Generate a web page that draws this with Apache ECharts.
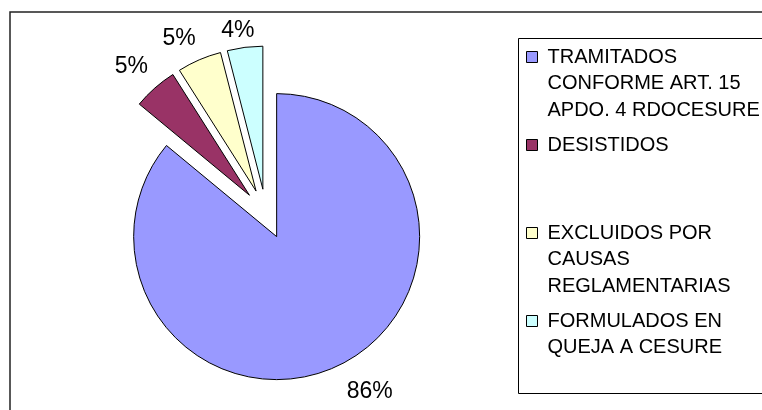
<!DOCTYPE html>
<html><head><meta charset="utf-8">
<script src="https://cdn.jsdelivr.net/npm/echarts@6/dist/echarts.min.js"></script>
<style>html,body{margin:0;padding:0;background:#fff}#c{width:762px;height:410px}</style>
</head><body><div id="c"></div>
<script>
const categories = [
  'TRAMITADOS CONFORME ART. 15 APDO. 4 RDOCESURE',
  'DESISTIDOS',
  'EXCLUIDOS POR CAUSAS REGLAMENTARIAS',
  'FORMULADOS EN QUEJA A CESURE'
];
const legendLines = [
  ['TRAMITADOS', 'CONFORME ART. 15', 'APDO. 4 RDOCESURE'],
  ['DESISTIDOS'],
  ['EXCLUIDOS POR', 'CAUSAS', 'REGLAMENTARIAS'],
  ['FORMULADOS EN', 'QUEJA A CESURE']
];
const values = [86, 5, 5, 4];
const colors = ['#9999FF', '#993366', '#FFFFCC', '#CCFFFF'];
const labelLen = [28.5, 28, 23, 16.5];
const labelLen2 = [15, 0, 6, 0];

const FONT = '"Liberation Sans", Arial, sans-serif';
const LH = 26.5;
const maxLines = 3;

const chart = echarts.init(document.getElementById('c'), null, {renderer: 'canvas'});

const legendData = categories.map((name, i) => {
  const n = legendLines[i].length;
  return {
    name: name,
    icon: 'rect',
    textStyle: {padding: [(maxLines - 1) * LH, 0, (maxLines - n) * LH, 5]}
  };
});

chart.setOption({
  animation: false,
  backgroundColor: '#fff',
  graphic: [
    {type: 'rect', silent: true, z: -1, shape: {x: 10, y: 12, width: 800, height: 450},
     style: {fill: 'none', stroke: '#222', lineWidth: 1.5}},
    {type: 'rect', silent: true, z: -1, shape: {x: 518.5, y: 38.5, width: 300, height: 355},
     style: {fill: 'none', stroke: '#000', lineWidth: 1}}
  ],
  legend: {
    orient: 'vertical',
    left: 526,
    top: 57 - (2 * maxLines - 1) * LH / 2,
    padding: 0,
    itemGap: 88 - (2 * maxLines - 1) * LH,
    itemWidth: 11,
    itemHeight: 11,
    selectedMode: false,
    itemStyle: {borderColor: '#000', borderWidth: 1},
    formatter: function (name) {
      return legendLines[categories.indexOf(name)].join('\n');
    },
    textStyle: {fontFamily: FONT, fontSize: 20, color: '#000', lineHeight: LH, rich: {t: {}}},
    data: legendData
  },
  series: [{
    type: 'pie',
    center: [266, 214],
    radius: 143,
    startAngle: 90,
    clockwise: true,
    selectedMode: 'multiple',
    selectedOffset: 25,
    avoidLabelOverlap: false,
    emphasis: {disabled: true},
    itemStyle: {borderColor: '#000', borderWidth: 1},
    label: {show: true, position: 'outside', formatter: '{d}%', fontFamily: FONT, fontSize: 23,
            color: '#000', distanceToLabelLine: 5},
    labelLine: {show: false},
    labelLayout: {align: 'center'},
    data: categories.map((name, i) => ({
      name: name,
      value: values[i],
      selected: true,
      itemStyle: {color: colors[i]},
      labelLine: {show: false, length: labelLen[i], length2: labelLen2[i]}
    }))
  }]
});
</script>
</body></html>
